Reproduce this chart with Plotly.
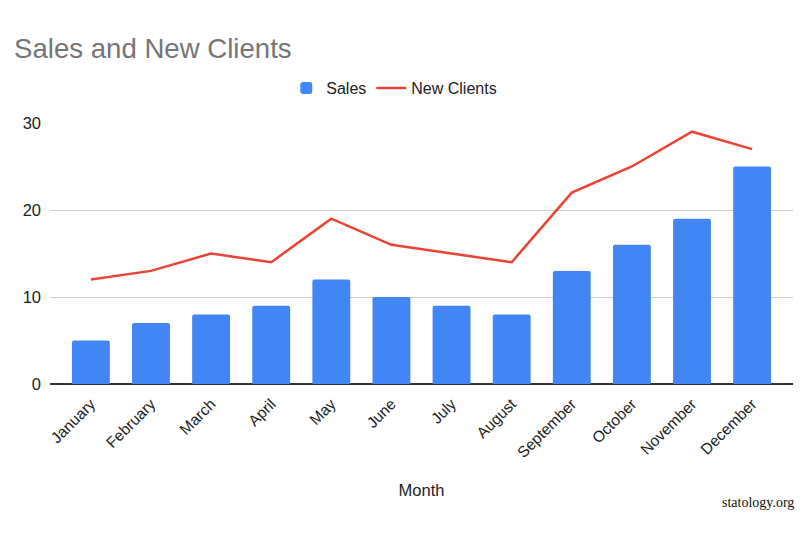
import plotly.graph_objects as go

months = ["January", "February", "March", "April", "May", "June", "July",
          "August", "September", "October", "November", "December"]
sales = [5, 7, 8, 9, 12, 10, 9, 8, 13, 16, 19, 25]
new_clients = [12, 13, 15, 14, 19, 16, 15, 14, 22, 25, 29, 27]
y_ticks = [0, 10, 20, 30]

FONT = "Arial, Liberation Sans, sans-serif"

fig = go.Figure()
fig.add_trace(go.Bar(x=months, y=sales, name="Sales", marker_color="#4285F4",
                     width=0.63, marker_line_width=0, marker_cornerradius=2))
fig.add_trace(go.Scatter(x=months, y=new_clients, name="New Clients", mode="lines",
                         line=dict(color="#EA4335", width=2.5)))

fig.update_layout(
    width=800, height=540,
    margin=dict(l=50, r=7, t=123, b=156),
    paper_bgcolor="white", plot_bgcolor="white",
    font=dict(family=FONT, color="#222222"),
    title=dict(text="Sales and New Clients", xref="container", yref="container",
               x=14/800, xanchor="left", y=1-48/540, yanchor="middle",
               font=dict(size=27.6, color="#757575", family=FONT)),
    legend=dict(orientation="h", x=0.318, xanchor="left", y=1.134, yanchor="middle",
                font=dict(size=16, color="#222222"), traceorder="normal"),
    showlegend=True,
)
fig.update_xaxes(range=[-0.68, 11.68], tickangle=-45, tickfont=dict(size=15.5, color="#222222"),
                 showgrid=False, showline=False, ticks="", ticklabelstandoff=7,
                 title=dict(text="Month", font=dict(size=16.5, color="#222222"), standoff=24))
fig.update_yaxes(range=[0, 30], tickvals=y_ticks, tickfont=dict(size=16.5, color="#222222"),
                 showgrid=True, gridcolor="#CCCCCC", gridwidth=1, zeroline=True,
                 zerolinecolor="#333333", zerolinewidth=1.5, showline=False, ticks="",
                 ticklabelstandoff=8)

fig.add_annotation(text="statology.org", xref="paper", yref="paper",
                   x=(796-50)/743, xanchor="right", y=-(502-384)/261, yanchor="middle",
                   showarrow=False, font=dict(family="Liberation Serif, Times New Roman, serif",
                                              size=14, color="#111111"))

fig.write_html("out.html")
